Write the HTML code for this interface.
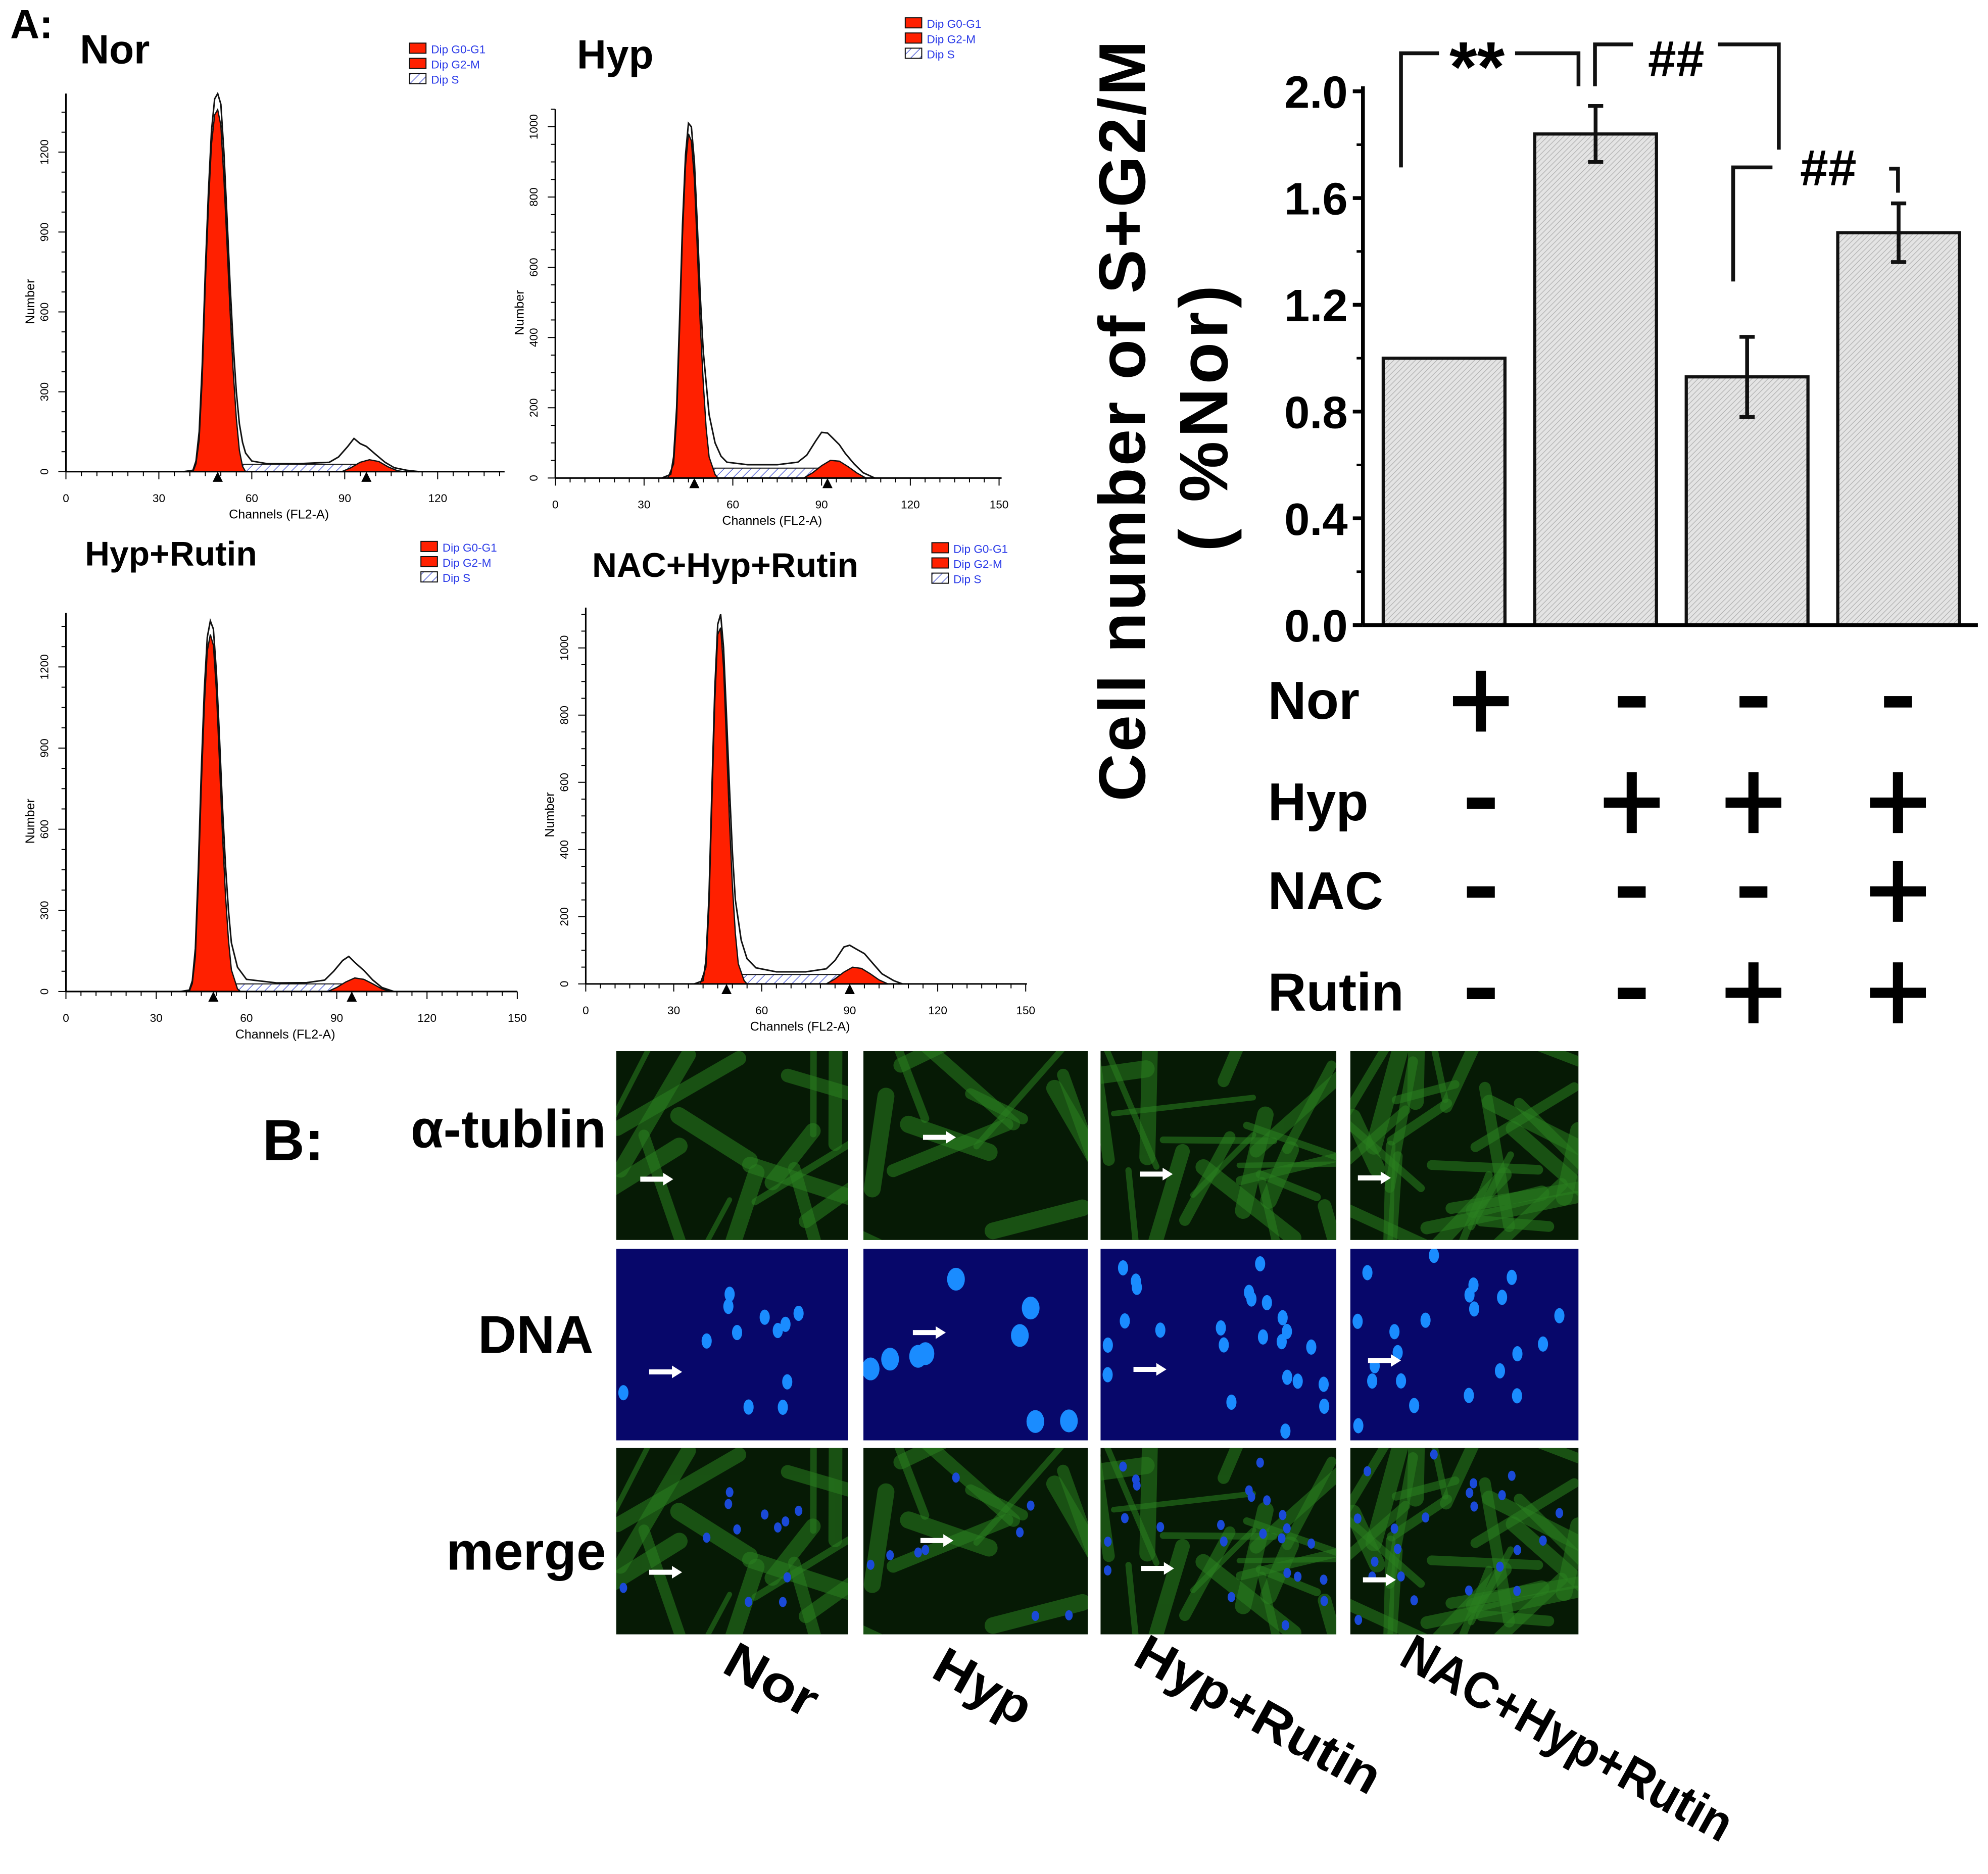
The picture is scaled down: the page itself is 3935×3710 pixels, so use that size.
<!DOCTYPE html>
<html><head><meta charset="utf-8"><style>
html,body{margin:0;padding:0;background:#fff}
svg{display:block}
text{font-family:"Liberation Sans",Arial,sans-serif}
</style></head><body>
<svg id="fig" xmlns="http://www.w3.org/2000/svg" width="3935" height="3710" viewBox="0 0 1568 1478" preserveAspectRatio="none">
<defs id="defs">
<pattern id="hatch" width="3" height="3" patternUnits="userSpaceOnUse" patternTransform="rotate(45)">
<rect width="3" height="3" fill="#e4e4e4"/><line x1="0" y1="0" x2="0" y2="3" stroke="#b0b0b0" stroke-width="1"/></pattern>
<pattern id="shatch" width="5" height="5" patternUnits="userSpaceOnUse" patternTransform="rotate(45)">
<rect width="5" height="5" fill="#fff"/><line x1="0" y1="0" x2="0" y2="5" stroke="#3a4ad0" stroke-width="1"/></pattern>
</defs>
<g id="root"></g>
</svg>
<script>
// ---- Bar chart data ----
const barCategories = ["Nor","Hyp","Hyp+Rutin","NAC+Hyp+Rutin"];
const barValues = [1.0, 1.84, 0.93, 1.47];
const barErrors = [0.0, 0.105, 0.15, 0.11];
const yTicks = [0.0, 0.4, 0.8, 1.2, 1.6, 2.0];
const yTickLabels = ["0.0","0.4","0.8","1.2","1.6","2.0"];
const tableRows = ["Nor","Hyp","NAC","Rutin"];
const tableNor = ["+","-","-","-"];
const tableHyp = ["-","+","+","+"];
const tableNAC = ["-","-","-","+"];
const tableRutin = ["-","-","+","+"];

// ---- Histogram data (channel, count) ----
const histTitles = ["Nor","Hyp","Hyp+Rutin","NAC+Hyp+Rutin"];
const xTickLabels = [0,30,60,90,120,150];
const norTotal = [[38,0],[41,5],[42,40],[43,150],[44,400],[45,750],[46,1050],[47,1280],[48,1400],[49,1420],[50,1380],[51,1200],[52,950],[53,700],[54,480],[55,300],[56,180],[57,110],[58,70],[60,40],[65,30],[75,30],[85,35],[88,55],[91,95],[93,125],[95,105],[97,95],[100,65],[103,35],[106,15],[110,5],[114,0]];
const norG1 = [[41,0],[42,30],[43,120],[44,350],[45,700],[46,1000],[47,1230],[48,1340],[49,1360],[50,1300],[51,1100],[52,850],[53,600],[54,380],[55,200],[56,80],[57,20],[58,0]];
const norG2 = [[89,0],[92,15],[95,35],[98,45],[101,38],[104,18],[107,4],[109,0]];
const hypTotal = [[36,0],[39,10],[40,60],[41,200],[42,450],[43,720],[44,920],[45,1010],[46,1000],[47,900],[48,720],[49,520],[50,360],[52,180],[54,100],[56,62],[58,45],[65,38],[75,38],[82,45],[85,65],[88,105],[90,130],[92,128],[94,112],[96,95],[98,70],[101,40],[104,15],[108,0]];
const hypG1 = [[38,0],[40,40],[41,170],[42,420],[43,690],[44,890],[45,980],[46,960],[47,850],[48,650],[49,440],[50,270],[51,140],[52,60],[54,10],[55,0]];
const hypG2 = [[84,0],[87,15],[90,35],[93,50],[96,48],[99,32],[102,14],[105,0]];
const rutTotal = [[38,0],[41,5],[42,40],[43,160],[44,450],[45,820],[46,1120],[47,1310],[48,1370],[49,1340],[50,1180],[51,950],[52,690],[53,470],[54,300],[55,180],[57,90],[60,45],[70,32],[80,33],[86,42],[89,75],[92,115],[94,130],[96,108],[99,78],[102,42],[105,15],[109,0]];
const rutG1 = [[41,0],[42,30],[43,130],[44,400],[45,760],[46,1060],[47,1260],[48,1320],[49,1280],[50,1110],[51,860],[52,590],[53,360],[54,190],[55,80],[57,10],[58,0]];
const rutG2 = [[87,0],[90,15],[93,35],[96,50],[99,45],[102,28],[105,10],[108,0]];
const nacTotal = [[37,0],[40,10],[41,70],[42,260],[43,580],[44,880],[45,1070],[46,1100],[47,1000],[48,800],[49,580],[50,390],[51,250],[53,130],[55,75],[58,48],[65,36],[75,36],[82,45],[85,70],[88,110],[90,115],[92,105],[95,90],[98,60],[101,30],[105,10],[108,0]];
const nacG1 = [[39,0],[41,50],[42,230],[43,540],[44,840],[45,1040],[46,1060],[47,940],[48,720],[49,480],[50,290],[51,150],[52,60],[54,10],[55,0]];
const nacG2 = [[82,0],[85,15],[88,35],[91,50],[94,46],[97,30],[100,12],[103,0]];

const NS="http://www.w3.org/2000/svg";
const root=document.getElementById('root');
const defs=document.getElementById('defs');
function mk(tag,attrs,parent,txt){const e=document.createElementNS(NS,tag);for(const k in attrs)e.setAttribute(k,attrs[k]);if(txt!==undefined)e.textContent=txt;(parent||root).appendChild(e);return e;}

// ===== Bar chart =====
const bc=mk('g',{});


const X0=1075,X1=1560,Y0=493,Ytop=72;
function yS(v){return Y0-(v/2.0)*(Y0-Ytop);}
function xC(i){return 1139+i*119.5;}
const barW=96;
yTicks.forEach((t,i)=>{
  const y=yS(t);
  mk('line',{x1:X0-8,y1:y,x2:X0,y2:y,stroke:'#000','stroke-width':3},bc);
  const tx=mk('text',{x:X0-12,y:y+13,'text-anchor':'end','font-size':36,'font-weight':'bold'},bc,yTickLabels[i]);
  
  
  if(i<yTicks.length-1){mk('line',{x1:X0-5,y1:yS(t+0.2),x2:X0,y2:yS(t+0.2),stroke:'#000','stroke-width':2},bc);}
});
barValues.forEach((v,i)=>{
  const x=xC(i)-barW/2;
  const r=mk('rect',{x:x,y:yS(v),width:barW,height:Y0-yS(v),fill:'url(#hatch)',stroke:'#111','stroke-width':2.5},bc);
  
  
  if(barErrors[i]>0){
    const e=barErrors[i],cx=xC(i);
    const eg=mk('g',{stroke:'#111','stroke-width':3},bc);
    
    
    mk('line',{x1:cx,y1:yS(v+e),x2:cx,y2:yS(v-e)},eg);
    mk('line',{x1:cx-6,y1:yS(v+e),x2:cx+6,y2:yS(v+e)},eg);
    mk('line',{x1:cx-6,y1:yS(v-e),x2:cx+6,y2:yS(v-e)},eg);
  }
});
const yax=mk('line',{x1:X0,y1:Y0,x2:X0,y2:Ytop-4,stroke:'#000','stroke-width':3},bc);


const xax=mk('line',{x1:X0,y1:Y0,x2:X1,y2:Y0,stroke:'#000','stroke-width':3},bc);


const yt=mk('text',{x:0,y:0,transform:'translate(903,332) rotate(-90)','text-anchor':'middle','font-size':52,'font-weight':'bold',textLength:600},bc,'Cell number of S+G2/M');


const yt2=mk('text',{x:0,y:0,transform:'translate(968,330) rotate(-90)','text-anchor':'middle','font-size':54,'font-weight':'bold',textLength:210},bc,'( %Nor)');


const sg=mk('g',{stroke:'#111','stroke-width':3,fill:'none'},bc);


mk('polyline',{points:'1105,132 1105,42 1135,42'},sg);
mk('polyline',{points:'1195,42 1245,42 1245,68'},sg);
mk('polyline',{points:'1258,68 1258,35 1288,35'},sg);
mk('polyline',{points:'1355,35 1403,35 1403,118'},sg);
mk('polyline',{points:'1367,222 1367,132 1398,132'},sg);
mk('polyline',{points:'1490,133 1497,133 1497,152'},sg);
[['**',1165,72,'star-mark-hyp-vs-nor'],['##',1322,60,'hash-mark-rutin-vs-hyp'],['##',1442,146,'hash-mark-nac']].forEach(a=>{
  const t=mk('text',{x:a[1],y:a[2],'text-anchor':'middle','font-size':a[0]=='**'?56:40,'font-weight':'bold'},bc,a[0]);
  
  
});
const rowY=[565,645,715,795];
const tabVals=[tableNor,tableHyp,tableNAC,tableRutin];
const colX=[1168,1287,1383,1497];
tableRows.forEach((r,ri)=>{
  const t=mk('text',{x:1000,y:rowY[ri]+2,'font-size':42,'font-weight':'bold'},bc,r);
  
  
  tabVals[ri].forEach((s,ci)=>{
    const cx=colX[ci],cy=rowY[ri]-12;
    const g=mk('g',{fill:'#000'},bc);
    
    
    if(s=='+'){mk('rect',{x:cx-22,y:cy-4,width:44,height:8},g);mk('rect',{x:cx-4,y:cy-24,width:8,height:48},g);}
    else mk('rect',{x:cx-11,y:cy-4,width:22,height:9},g);
  });
});

// ===== Histograms =====
const panels=[
 {title:'Nor',tx:63,ty:50,ts:32,ox:52,oy:372,xe:398,x30:73.3,ymax:1420,yticks:[0,300,600,900,1200],ypx:63/300,leg:[323,34],tot:norTotal,g1:norG1,g2:norG2},
 {title:'Hyp',tx:455,ty:54,ts:32,ox:438,oy:377,xe:790,x30:70,ymax:1050,yticks:[0,200,400,600,800,1000],ypx:55.4/200,leg:[714,14],tot:hypTotal,g1:hypG1,g2:hypG2},
 {title:'Hyp+Rutin',tx:67,ty:446,ts:27,ox:52,oy:782,xe:408,x30:71.2,ymax:1400,yticks:[0,300,600,900,1200],ypx:64/300,leg:[332,427],tot:rutTotal,g1:rutG1,g2:rutG2},
 {title:'NAC+Hyp+Rutin',tx:467,ty:455,ts:27,ox:462,oy:776,xe:810,x30:69.4,ymax:1120,yticks:[0,200,400,600,800,1000],ypx:53/200,leg:[735,428],tot:nacTotal,g1:nacG1,g2:nacG2}
];
panels.forEach((p,pi)=>{
  const g=mk('g',{},root);
  
  
  const xs=c=>p.ox+c*p.x30/30, ys=v=>p.oy-v*p.ypx;
  const pts=a=>a.map(q=>xs(q[0]).toFixed(1)+','+ys(q[1]).toFixed(1)).join(' ');
  const s0=p.g1[p.g1.length-4][0], s1=p.g2[2][0];
  const sp=mk('polygon',{points:pts([[s0,0],[s0,28],[s1,28],[s1,0]]),fill:'url(#shatch)',stroke:'#111','stroke-width':0.8},g);
  
  
  const g1=mk('polygon',{points:pts(p.g1),fill:'#ff2000',stroke:'#111','stroke-width':1},g);
  
  
  const g2=mk('polygon',{points:pts(p.g2),fill:'#ff2000',stroke:'#111','stroke-width':1},g);
  
  
  const tl=mk('polyline',{points:pts(p.tot),fill:'none',stroke:'#111','stroke-width':1.2},g);
  
  
  mk('line',{x1:p.ox,y1:p.oy,x2:p.xe,y2:p.oy,stroke:'#000','stroke-width':1.2},g);
  mk('line',{x1:p.ox,y1:p.oy,x2:p.ox,y2:ys(p.ymax),stroke:'#000','stroke-width':1.2},g);
  for(let c=0;c<=150;c+=5){const x=xs(c);if(x>p.xe+1)break;mk('line',{x1:x,y1:p.oy,x2:x,y2:p.oy+(c%30==0?6:3.5),stroke:'#000','stroke-width':0.8},g);}
  xTickLabels.forEach(c=>{const x=xs(c);if(x>p.xe+2)return;const t=mk('text',{x:x,y:p.oy+24,'text-anchor':'middle','font-size':9},g,String(c));});
  const st=p.yticks[1]/4;
  for(let v=0;v<=p.ymax;v+=st){mk('line',{x1:p.ox-(v%p.yticks[1]==0?6:3.5),y1:ys(v),x2:p.ox,y2:ys(v),stroke:'#000','stroke-width':0.8},g);}
  p.yticks.forEach(v=>{const t=mk('text',{x:0,y:0,transform:`translate(${p.ox-14},${ys(v)}) rotate(-90)`,'text-anchor':'middle','font-size':9},g,String(v));});
  const xt=mk('text',{x:(p.ox+p.xe)/2-5,y:p.oy+37,'text-anchor':'middle','font-size':10},g,'Channels (FL2-A)');
  
  const yl=mk('text',{x:0,y:0,transform:`translate(${p.ox-25},${(p.oy+ys(p.ymax))/2+15}) rotate(-90)`,'text-anchor':'middle','font-size':10},g,'Number');
  
  [p.g1[8][0], p.g2[3][0]-1].forEach(c=>{const x=xs(c);mk('polygon',{points:`${x-4},${p.oy+8} ${x+4},${p.oy+8} ${x},${p.oy}`,fill:'#000'},g);});
  const tt=mk('text',{x:p.tx,y:p.ty,'font-size':p.ts,'font-weight':'bold'},g,p.title);
  
  const lg=mk('g',{},g);
  
  ['Dip G0-G1','Dip G2-M','Dip S'].forEach((s,i)=>{
    const lx=p.leg[0],ly=p.leg[1]+i*12;
    mk('rect',{x:lx,y:ly,width:13,height:8,fill:i<2?'#ff2000':'url(#shatch)',stroke:'#111','stroke-width':0.8},lg);
    const t=mk('text',{x:lx+17,y:ly+8,'font-size':9,fill:'#2a3ae8'},lg,s);
    
  });
});
const aL=mk('text',{x:8,y:30,'font-size':32,'font-weight':'bold'},root,'A:');


// ===== Section B micrographs =====
const bL=mk('text',{x:207,y:915,'font-size':46,'font-weight':'bold'},root,'B:');

[['α-tublin',478,905],['DNA',468,1067],['merge',478,1238]].forEach(a=>{
  const t=mk('text',{x:a[1],y:a[2],'text-anchor':'end','font-size':42,'font-weight':'bold'},root,a[0]);
  
});
const colsB=[[486,669],[681,858],[868,1054],[1065,1245]];
const rowsB=[[829,978],[985,1136],[1142,1289]];
let seed=7;function rnd(){seed=(seed*16807)%2147483647;return seed/2147483647;}
const arrowPos=[[518,930,741,897,912,926,1084,929],[525,1082,733,1051,907,1080,1092,1073],[525,1240,739,1215,913,1237,1088,1246]];
rowsB.forEach((r,ri)=>{
  colsB.forEach((c,ci)=>{
    const w=c[1]-c[0],h=r[1]-r[0];
    const cid='clip'+ri+'_'+ci;
    const cp=mk('clipPath',{id:cid},defs);
    mk('rect',{x:c[0],y:r[0],width:w,height:h},cp);
    const g=mk('g',{'clip-path':'url(#'+cid+')'},root);
    
    
    mk('rect',{x:c[0],y:r[0],width:w,height:h,fill:ri==1?'#07076a':'#061a05'},g);
    seed=13+ci*101;
    if(ri!=1){
      const n=[16,12,22,30][ci];
      for(let k=0;k<n;k++){
        const x=c[0]+rnd()*w,y=r[0]+rnd()*h,a=rnd()*Math.PI,L=40+rnd()*80;
        mk('line',{x1:x-Math.cos(a)*L/2,y1:y-Math.sin(a)*L/2,x2:x+Math.cos(a)*L/2,y2:y+Math.sin(a)*L/2,stroke:'#2a8020','stroke-width':4+rnd()*10,'stroke-linecap':'round',opacity:0.55},g);
      }
    }
    seed=500+ci*37;
    if(ri>=1){
      const n=[12,9,24,22][ci];
      for(let k=0;k<n;k++){
        const x=c[0]+5+rnd()*(w-10),y=r[0]+5+rnd()*(h-10);
        mk('ellipse',{cx:x,cy:y,rx:ri==1?(ci==1?7:4):3,ry:ri==1?(ci==1?9:6):4,fill:ri==1?'#1a8cff':'#1a4ad8'},g);
      }
    }
    const ax=arrowPos[ri][ci*2],ay=arrowPos[ri][ci*2+1];
    mk('polygon',{points:`${ax-13},${ay-2} ${ax+5},${ay-2} ${ax+5},${ay-5} ${ax+13},${ay} ${ax+5},${ay+5} ${ax+5},${ay+2} ${ax-13},${ay+2}`,fill:'#fff'},g);
  });
});
[['Nor',568,1318,78],['Hyp',733,1322,82],['Hyp+Rutin',892,1312,215],['NAC+Hyp+Rutin',1102,1312,292]].forEach(a=>{
  const t=mk('text',{x:0,y:0,transform:`translate(${a[1]},${a[2]}) rotate(29)`,'font-size':40,'font-weight':'bold',textLength:a[3],lengthAdjust:'spacingAndGlyphs'},root,a[0]);
  
});
</script>
</body></html>
